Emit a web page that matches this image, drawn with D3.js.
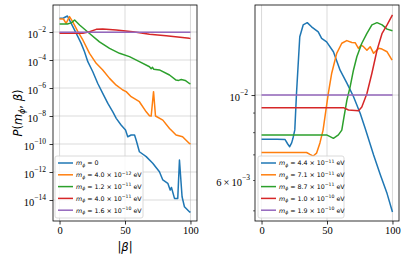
<!DOCTYPE html>
<html>
<head>
<meta charset="utf-8">
<script src="https://cdn.jsdelivr.net/npm/d3@7"></script>
<style>
  body { margin: 0; background: #fff; }
  svg text { fill: #000; }
</style>
</head>
<body>
<div id="chart"></div>
<script>
// ---- left panel: m_phi = 0 ... 1.6e-10 eV ----
var betaL0 = [0, 3, 6, 8.9, 11.5, 14, 16.5, 19, 21.6, 25.4, 29.2, 33, 36.9, 40.7, 43.3, 47, 50.4, 52.1, 54.7, 57.3, 58.5, 61, 66.2, 71.2, 76.3, 78.9, 82.7, 84.5, 85.5, 87.8, 90.3, 91.6, 93.6, 95.4, 99.2, 100];
var probL0 = [0.095, 0.10, 0.14, 0.042, 0.0138, 0.0047, 0.00155, 4.0e-4, 7.6e-5, 1.45e-5, 2.1e-6, 4.2e-7, 7.9e-8, 2.0e-8, 6.8e-9, 2.3e-9, 1.0e-9, 3.3e-10, 4.4e-10, 4.4e-10, 1.95e-10, 2.8e-11, 1.26e-11, 4.2e-12, 1.05e-12, 2.7e-13, 1.55e-13, 5.1e-14, 7.9e-14, 1.3e-14, 1.3e-14, 7.2e-12, 1.7e-14, 3.3e-15, 1.45e-15, 1.3e-15];

var betaL1 = [0, 3, 5, 7.6, 10, 14, 17.8, 22.9, 28, 33, 38.2, 43.3, 48.3, 50.9, 54.7, 61, 66.2, 68.7, 70, 71.8, 73.3, 78.9, 84, 85.2, 89, 94, 99.2, 100];
var probL1 = [0.085, 0.085, 0.042, 0.126, 0.055, 0.0105, 0.0027, 3.0e-4, 5.8e-5, 1.95e-5, 4.9e-6, 1.6e-6, 7.2e-7, 5.5e-7, 2.4e-7, 1.05e-7, 2.0e-8, 1.05e-8, 1.0e-8, 5.5e-7, 1.0e-8, 5.1e-9, 1.3e-9, 1.0e-9, 4.4e-10, 3.3e-10, 1.1e-10, 1.0e-10];

var betaL2 = [0, 6, 9, 11.5, 15.3, 22.9, 30.5, 38.2, 45.8, 53.4, 61, 68.7, 70, 71, 72, 76.3, 84, 89, 91, 93, 96, 99.2, 100];
var probL2 = [0.037, 0.037, 0.045, 0.072, 0.0316, 0.0079, 0.002, 6.8e-4, 3.0e-4, 1.74e-4, 7.6e-5, 3.3e-5, 2.4e-5, 3.0e-5, 2.2e-5, 1.95e-5, 8.5e-6, 3.7e-6, 3.5e-6, 4.0e-6, 3.5e-6, 2.1e-6, 2.0e-6];

var betaL3 = [0, 17.8, 22.9, 28, 33, 43.3, 56, 68.7, 81.4, 99.2, 100];
var probL3 = [0.0081, 0.0081, 0.0105, 0.0155, 0.0162, 0.0138, 0.0105, 0.0068, 0.0055, 0.00355, 0.0035];

var betaL4 = [0, 100];
var probL4 = [0.0096, 0.0096];

// ---- right panel: m_phi = 4.4e-11 ... 1.9e-10 eV ----
var betaR0 = [0, 6, 12, 18, 20, 21.5, 23, 24, 25.4, 26.7, 29.2, 31.8, 34.9, 38.2, 43.3, 45.9, 49.7, 54.9, 60, 65.2, 70.2, 75.4, 79.2, 85.6, 90.8, 95.9, 100];
var probR0 = [0.00767, 0.00767, 0.00767, 0.00765, 0.00745, 0.00733, 0.0075, 0.00771, 0.00811, 0.01009, 0.01419, 0.01524, 0.01545, 0.01507, 0.01462, 0.01406, 0.01377, 0.01297, 0.01161, 0.01074, 0.00991, 0.00895, 0.00818, 0.00697, 0.00618, 0.00553, 0.00495];

var betaR1 = [0, 34.4, 37, 39.5, 42, 44.6, 47, 51, 53.6, 57.4, 61.3, 65.1, 69, 71.5, 74, 76, 77.9, 80.5, 83, 85.6, 89.5, 92, 95.9, 99.7];
var probR1 = [0.00708, 0.00708, 0.0070, 0.00693, 0.00705, 0.0075, 0.0081, 0.0101, 0.0114, 0.01285, 0.01365, 0.01387, 0.01371, 0.0137, 0.01324, 0.0135, 0.01337, 0.01309, 0.01337, 0.01285, 0.01324, 0.01318, 0.01297, 0.01233];

var betaR2 = [0, 49.7, 52, 54.9, 58.7, 61.3, 62.6, 65.2, 67.7, 70.2, 72.8, 76.6, 80.5, 84.3, 88.2, 92.1, 95.9, 100];
var probR2 = [0.00787, 0.00787, 0.0078, 0.00771, 0.00787, 0.0081, 0.00861, 0.0097, 0.01052, 0.01161, 0.01259, 0.01365, 0.01449, 0.01524, 0.01545, 0.01524, 0.01486, 0.01472];

var betaR3 = [0, 62.6, 66.4, 74.1, 76.6, 80.5, 84.3, 88.2, 92.1, 95.9, 100];
var probR3 = [0.00927, 0.00927, 0.00914, 0.0091, 0.00931, 0.01009, 0.0114, 0.01309, 0.01449, 0.01524, 0.01618];

var betaR4 = [0, 100];
var probR4 = [0.01, 0.01];

// legend masses: [mantissa, exponent]  (null = massless)
var massL = [null, ["4.0", "12"], ["1.2", "11"], ["4.0", "11"], ["1.6", "10"]];
var massR = [["4.4", "11"], ["7.1", "11"], ["8.7", "11"], ["1.0", "10"], ["1.9", "10"]];

var xTicks = [0, 50, 100];
var yTicksL = [1e-2, 1e-4, 1e-6, 1e-8, 1e-10, 1e-12, 1e-14];
var yTicksR = [1e-2];
var yMinorR = [5e-3, 6e-3, 7e-3, 8e-3, 9e-3];

var colors = ["#1f77b4", "#ff7f0e", "#2ca02c", "#d62728", "#9467bd"];

var width = 407, height = 260;
var svg = d3.select("#chart").append("svg")
    .attr("width", width)
    .attr("height", height);

var serif = "'Liberation Serif', 'Times New Roman', serif";
var sans = "'DejaVu Sans', sans-serif";

function drawPanel(opts) {
    var x = d3.scaleLinear().domain([-5, 105]).range([opts.left, opts.right]);
    var y = d3.scaleLog().domain(opts.yDomain).range([221, 5]);

    var g = svg.append("g");

    // grid
    g.selectAll(".vgrid").data(xTicks).enter().append("line")
        .attr("x1", d => x(d)).attr("x2", d => x(d))
        .attr("y1", 5).attr("y2", 221)
        .attr("stroke", "#b0b0b0").attr("stroke-opacity", 0.6).attr("stroke-width", 0.8);
    g.selectAll(".hgrid").data(opts.yTicks).enter().append("line")
        .attr("x1", opts.left).attr("x2", opts.right)
        .attr("y1", d => y(d)).attr("y2", d => y(d))
        .attr("stroke", "#b0b0b0").attr("stroke-opacity", 0.6).attr("stroke-width", 0.8);

    // lines
    var line = d3.line().x(d => x(d[0])).y(d => y(d[1]));
    opts.series.forEach(function(s, i) {
        g.append("path")
            .datum(d3.zip(s[0], s[1]))
            .attr("d", line)
            .attr("fill", "none")
            .attr("stroke", colors[i])
            .attr("stroke-width", 1.5)
            .attr("stroke-linejoin", "round");
    });

    // frame
    g.append("rect")
        .attr("x", opts.left).attr("y", 5)
        .attr("width", opts.right - opts.left).attr("height", 216)
        .attr("fill", "none").attr("stroke", "#000").attr("stroke-width", 0.8);

    // x axis
    var xAxis = g.append("g")
        .attr("transform", "translate(0,221)")
        .call(d3.axisBottom(x).tickValues(xTicks).tickSize(3.5).tickPadding(2.5));
    xAxis.select(".domain").remove();
    xAxis.selectAll("line").attr("stroke-width", 0.8);
    xAxis.selectAll("text").attr("font-family", serif).attr("font-size", 10.5);

    // y axis
    var yAxis = g.append("g")
        .attr("transform", "translate(" + opts.left + ",0)")
        .call(d3.axisLeft(y).tickValues(opts.yTicks).tickSize(3.5).tickFormat(() => ""));
    yAxis.select(".domain").remove();
    yAxis.selectAll("line").attr("stroke-width", 0.8);
    yAxis.selectAll(".tick text").each(function(d) {
        var t = d3.select(this).attr("font-family", serif).attr("font-size", 10.5)
            .attr("x", -7).attr("dy", "0.5em");
        t.append("tspan").text("10");
        t.append("tspan").attr("font-size", 7.5).attr("dy", "-0.75em")
            .text("\u2212" + Math.round(-Math.log10(d)));
    });

    if (opts.minor) {
        var yMin = g.append("g")
            .attr("transform", "translate(" + opts.left + ",0)")
            .call(d3.axisLeft(y).tickValues(opts.minor).tickSize(2).tickFormat(() => ""));
        yMin.select(".domain").remove();
        yMin.selectAll("line").attr("stroke-width", 0.6);
        yMin.selectAll(".tick text").each(function(d) {
            if (Math.abs(d - 6e-3) > 1e-6) return;
            var t = d3.select(this).attr("font-family", serif).attr("font-size", 10.5)
                .attr("x", -5).attr("dy", "0.5em");
            t.append("tspan").text("6\u2009\u00d7\u200910");
            t.append("tspan").attr("font-size", 7.5).attr("dy", "-0.75em").text("\u22123");
        });
    }

    // legend
    var lg = g.append("g").attr("transform", "translate(" + opts.legX + ",156)");
    lg.append("rect")
        .attr("width", opts.legW).attr("height", 62).attr("rx", 2)
        .attr("fill", "#fff").attr("fill-opacity", 0.8)
        .attr("stroke", "#d0d0d0").attr("stroke-width", 0.8);
    opts.masses.forEach(function(m, i) {
        var yy = 7 + i * 11.8;
        lg.append("line")
            .attr("x1", 3).attr("x2", 18).attr("y1", yy).attr("y2", yy)
            .attr("stroke", colors[i]).attr("stroke-width", 1.5);
        var t = lg.append("text").attr("x", 21).attr("y", yy + 2.3)
            .attr("font-family", sans).attr("font-size", 6.3);
        t.append("tspan").attr("font-style", "italic").text("m");
        t.append("tspan").attr("font-style", "italic").attr("font-size", 4.6).attr("dy", 1.5).text("\u03d5");
        if (m === null) {
            t.append("tspan").attr("dy", -1.5).text(" = 0");
        } else {
            t.append("tspan").attr("dy", -1.5).text(" = " + m[0] + " \u00d7 10");
            t.append("tspan").attr("font-size", 4.6).attr("dy", -2.6).text("\u2212" + m[1]);
            t.append("tspan").attr("dy", 2.6).text(" eV");
        }
    });
    return x;
}

drawPanel({
    left: 53, right: 197,
    yDomain: [Math.pow(10, -15.5), Math.pow(10, -0.07)],
    yTicks: yTicksL,
    series: [[betaL0, probL0], [betaL1, probL1], [betaL2, probL2], [betaL3, probL3], [betaL4, probL4]],
    masses: massL, legX: 55, legW: 88
});

drawPanel({
    left: 255, right: 399,
    yDomain: [0.00469, 0.01718],
    yTicks: yTicksR,
    minor: yMinorR,
    series: [[betaR0, probR0], [betaR1, probR1], [betaR2, probR2], [betaR3, probR3], [betaR4, probR4]],
    masses: massR, legX: 258, legW: 86
});

// axis labels
var xl = svg.append("text").attr("x", 125).attr("y", 251)
    .attr("text-anchor", "middle").attr("font-family", sans).attr("font-size", 11.5);
xl.append("tspan").text("|");
xl.append("tspan").attr("font-style", "italic").text("\u03b2");
xl.append("tspan").text("|");

var yl = svg.append("text")
    .attr("transform", "translate(22,113) rotate(-90)")
    .attr("text-anchor", "middle").attr("font-family", sans).attr("font-size", 11.5);
yl.append("tspan").attr("font-style", "italic").text("P");
yl.append("tspan").text("(");
yl.append("tspan").attr("font-style", "italic").text("m");
yl.append("tspan").attr("font-style", "italic").attr("font-size", 8).attr("dy", 2.5).text("\u03d5");
yl.append("tspan").attr("dy", -2.5).text(", ");
yl.append("tspan").attr("font-style", "italic").text("\u03b2");
yl.append("tspan").text(")");
</script>
</body>
</html>
